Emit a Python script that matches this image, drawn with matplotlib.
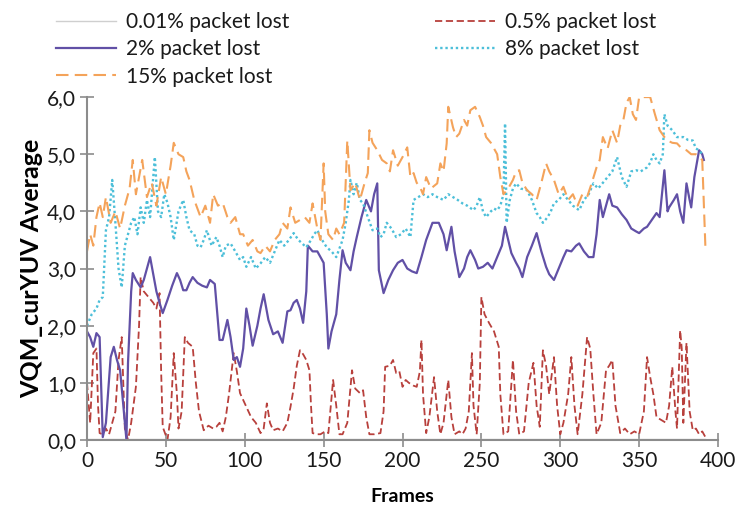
import matplotlib
matplotlib.use('Agg')
import matplotlib.pyplot as plt

# data
frames_001 = [0, 100, 200, 300, 392]
vqm_001 = [0.02, 0.02, 0.02, 0.02, 0.02]

frames_05 = [0, 2, 4, 6, 7, 8, 10, 12, 14, 16, 18, 20, 22, 24, 26, 28, 31, 33, 34, 36, 39, 42, 44, 46, 47, 48,
             51, 53, 55, 57, 58, 60, 62, 64, 67, 69, 71, 74, 77, 80, 82, 84, 86, 88, 90, 93, 95, 97, 99, 101,
             104, 107, 110, 112, 114, 116, 118, 121, 124, 127, 129, 131, 133, 135, 137, 139, 141, 142, 143,
             146, 148, 151, 153, 156, 158, 160, 162, 165, 168, 170, 173, 175, 177, 179, 182, 186, 188, 189,
             192, 194, 196, 198, 200, 202, 204, 207, 209, 211, 212, 213, 215, 217, 220, 222, 224, 226, 229,
             231, 233, 236, 238, 240, 242, 244, 245, 247, 249, 250, 252, 255, 258, 261, 262, 264, 267, 270,
             272, 274, 277, 280, 283, 285, 287, 289, 291, 293, 296, 298, 300, 302, 305, 307, 309, 311, 314,
             317, 319, 321, 323, 326, 329, 331, 333, 335, 338, 341, 344, 347, 350, 353, 355, 357, 359, 361,
             364, 367, 369, 371, 373, 374, 376, 377, 378, 380, 382, 384, 386, 388, 390, 392]
vqm_05 = [1.0, 0.3, 1.52, 1.6, 0.6, 0.12, 0.1, 0.2, 0.1, 0.3, 0.5, 1.4, 1.8, 0.2, 0.0, 0.3, 0.93, 2.0, 2.85, 2.6,
          2.5, 2.4, 2.3, 2.57, 1.2, 0.23, 0.0, 0.4, 1.52, 0.8, 0.2, 0.5, 1.8, 1.7, 1.63, 1.0, 0.5, 0.17, 0.25,
          0.2, 0.23, 0.3, 0.15, 0.4, 0.8, 1.52, 1.2, 0.82, 0.7, 0.58, 0.4, 0.3, 0.12, 0.2, 0.64, 0.3, 0.17,
          0.2, 0.15, 0.3, 0.58, 0.9, 1.3, 1.57, 1.5, 1.4, 1.22, 0.6, 0.12, 0.1, 0.1, 0.15, 0.12, 1.05, 0.6,
          0.1, 0.1, 0.3, 1.22, 0.9, 0.82, 0.87, 0.4, 0.1, 0.1, 0.12, 0.5, 1.28, 1.3, 1.4, 1.17, 1.2, 0.93,
          1.05, 1.0, 0.95, 0.93, 1.2, 1.75, 0.8, 0.12, 0.4, 1.1, 0.5, 0.1, 0.3, 1.05, 0.4, 0.1, 0.15, 0.1,
          0.2, 0.5, 1.52, 0.6, 0.1, 1.0, 2.5, 2.2, 2.04, 1.9, 1.63, 0.8, 0.1, 0.15, 1.4, 0.5, 0.1, 0.15, 1.0,
          1.35, 0.6, 0.23, 1.57, 1.3, 0.8, 1.45, 0.6, 0.1, 0.3, 0.8, 1.45, 0.6, 0.1, 0.8, 1.8, 1.6, 0.8, 0.1,
          0.3, 1.22, 1.3, 1.4, 0.6, 0.12, 0.2, 0.1, 0.15, 0.1, 0.5, 1.45, 1.1, 0.8, 0.4, 0.35, 0.3, 0.6, 1.28,
          0.5, 0.2, 1.92, 1.6, 0.3, 1.7, 0.5, 0.17, 0.2, 0.1, 0.15, 0.05]

frames_2 = [0, 2, 4, 6, 8, 10, 12, 15, 17, 19, 21, 23, 25, 26, 28, 29, 31, 34, 36, 38, 40, 42, 44, 46, 48, 51,
            54, 57, 59, 61, 63, 65, 67, 70, 73, 76, 78, 81, 84, 86, 89, 91, 93, 95, 97, 99, 101, 103, 105,
            108, 110, 112, 115, 118, 121, 124, 127, 129, 131, 133, 135, 137, 139, 140, 143, 146, 148, 150,
            152, 153, 155, 158, 160, 162, 164, 167, 169, 171, 174, 177, 180, 182, 184, 185, 187, 188, 191,
            194, 197, 200, 203, 206, 209, 212, 215, 219, 223, 226, 228, 231, 233, 236, 239, 241, 243, 246,
            248, 251, 254, 257, 260, 263, 265, 267, 269, 272, 274, 276, 279, 282, 285, 288, 291, 293, 296,
            299, 302, 304, 307, 310, 312, 315, 318, 321, 323, 325, 327, 329, 331, 333, 336, 339, 342, 345,
            348, 350, 353, 355, 358, 361, 363, 366, 368, 369, 372, 374, 376, 378, 380, 382, 383, 385, 388,
            390, 391]
vqm_2 = [1.9, 1.8, 1.63, 1.87, 1.8, 0.05, 0.3, 1.45, 1.63, 1.4, 1.22, 0.6, 0.0, 1.35, 2.6, 2.92, 2.8, 2.67,
         2.8, 3.0, 3.2, 2.9, 2.6, 2.4, 2.22, 2.45, 2.7, 2.92, 2.8, 2.62, 2.62, 2.75, 2.85, 2.75, 2.7, 2.67,
         2.8, 2.73, 1.75, 1.75, 2.1, 1.8, 1.4, 1.45, 1.28, 1.6, 2.3, 2.0, 1.65, 2.0, 2.3, 2.55, 2.1, 1.85,
         1.9, 1.7, 2.25, 2.27, 2.4, 2.45, 2.3, 2.05, 2.6, 3.4, 3.3, 3.3, 3.2, 3.1, 2.2, 1.6, 1.9, 2.2, 2.8,
         3.32, 3.1, 2.97, 3.3, 3.55, 3.9, 4.2, 4.0, 4.3, 4.49, 2.97, 2.7, 2.57, 2.8, 2.97, 3.1, 3.15, 3.0,
         2.95, 2.92, 3.2, 3.5, 3.8, 3.8, 3.6, 3.32, 3.73, 3.3, 2.85, 3.0, 3.2, 3.32, 3.15, 3.0, 3.03, 3.1,
         3.0, 3.2, 3.4, 3.73, 3.5, 3.27, 3.1, 3.0, 2.85, 3.2, 3.4, 3.62, 3.3, 3.03, 2.9, 2.8, 3.0, 3.2, 3.32,
         3.3, 3.4, 3.44, 3.3, 3.2, 3.2, 3.6, 4.2, 3.9, 4.1, 4.3, 4.1, 4.07, 3.95, 3.85, 3.7, 3.65, 3.62, 3.7,
         3.73, 3.85, 3.97, 3.9, 4.72, 4.0, 4.07, 4.2, 4.3, 4.0, 3.8, 4.49, 4.2, 4.07, 4.6, 5.07, 5.0, 4.9]

frames_8 = [0, 3, 6, 8, 10, 12, 14, 16, 18, 20, 22, 24, 26, 28, 30, 32, 34, 36, 38, 40, 43, 45, 47, 49, 51,
            53, 55, 58, 61, 63, 65, 68, 70, 72, 74, 76, 79, 82, 84, 86, 88, 91, 94, 97, 99, 101, 104, 107,
            110, 113, 116, 119, 122, 125, 128, 131, 134, 136, 139, 142, 144, 146, 149, 152, 155, 158, 160,
            162, 164, 166, 167, 169, 171, 173, 175, 178, 181, 184, 186, 188, 190, 193, 196, 199, 202, 205,
            207, 210, 213, 216, 219, 222, 226, 229, 232, 235, 238, 241, 245, 247, 249, 251, 253, 256, 258,
            260, 262, 264, 265, 266, 268, 270, 272, 275, 279, 282, 285, 287, 289, 292, 294, 296, 299, 302,
            305, 308, 312, 315, 318, 321, 324, 327, 330, 333, 336, 339, 342, 345, 348, 351, 355, 357, 359,
            361, 363, 365, 366, 368, 371, 374, 378, 381, 384, 386, 388, 390]
vqm_8 = [2.0, 2.2, 2.3, 2.45, 2.5, 3.67, 3.9, 4.55, 3.8, 3.0, 2.67, 3.4, 3.6, 3.8, 3.9, 3.6, 4.07, 3.8, 4.2,
         3.9, 4.95, 4.0, 3.9, 4.3, 4.15, 3.9, 3.5, 4.0, 4.2, 3.9, 3.67, 3.6, 3.4, 3.37, 3.5, 3.67, 3.4, 3.55,
         3.4, 3.2, 3.4, 3.44, 3.3, 3.15, 3.2, 3.03, 3.2, 3.0, 3.09, 3.2, 3.1, 3.3, 3.5, 3.4, 3.5, 3.62, 3.5,
         3.45, 3.37, 3.5, 3.6, 3.67, 3.5, 3.37, 3.3, 3.2, 3.35, 3.5, 3.8, 4.2, 4.55, 4.3, 4.5, 4.2, 4.14, 3.9,
         3.67, 3.7, 3.55, 3.6, 3.8, 3.7, 3.55, 3.6, 3.7, 3.55, 4.2, 4.25, 4.3, 4.25, 4.3, 4.25, 4.2, 4.3, 4.25,
         4.2, 4.14, 4.1, 4.02, 4.1, 4.25, 4.0, 3.9, 4.0, 4.05, 4.02, 4.1, 4.3, 5.54, 3.8, 4.2, 4.4, 4.49, 4.4,
         4.37, 4.2, 3.97, 3.9, 3.8, 3.9, 4.0, 4.14, 4.2, 4.3, 4.2, 4.1, 4.02, 4.2, 4.3, 4.49, 4.4, 4.5, 4.6,
         4.7, 4.95, 4.6, 4.43, 4.7, 4.72, 4.7, 4.77, 4.85, 5.0, 4.9, 4.84, 5.0, 5.7, 5.5, 5.42, 5.3, 5.3,
         5.25, 5.24, 5.1, 5.07, 5.0]

frames_15 = [0, 2, 4, 6, 8, 10, 12, 15, 18, 21, 24, 27, 29, 31, 33, 35, 38, 41, 44, 47, 50, 53, 55, 58, 61,
             63, 65, 68, 72, 75, 78, 80, 83, 86, 89, 91, 94, 97, 99, 102, 105, 108, 110, 113, 116, 119, 122,
             124, 127, 129, 132, 135, 138, 141, 143, 146, 148, 150, 151, 153, 156, 158, 160, 163, 165, 167,
             170, 173, 176, 178, 179, 181, 184, 187, 190, 192, 194, 197, 200, 203, 205, 207, 209, 211, 213,
             215, 218, 222, 224, 226, 228, 229, 232, 234, 236, 239, 241, 243, 246, 249, 251, 253, 256, 258,
             260, 262, 264, 267, 270, 272, 274, 276, 279, 282, 285, 288, 291, 293, 296, 299, 302, 305, 308,
             311, 314, 317, 320, 323, 325, 327, 330, 333, 336, 338, 340, 342, 344, 346, 348, 350, 353, 357,
             360, 363, 366, 368, 371, 374, 377, 380, 383, 386, 388, 390, 392]
vqm_15 = [3.3, 3.6, 3.4, 3.9, 4.15, 3.9, 4.25, 3.8, 4.0, 3.7, 4.1, 4.4, 4.9, 4.3, 4.6, 4.9, 4.25, 4.5, 4.1,
          4.6, 4.3, 4.8, 5.2, 5.0, 4.95, 4.7, 4.55, 4.2, 3.9, 4.1, 3.8, 4.3, 4.1, 4.15, 3.9, 3.8, 3.9, 3.6,
          3.6, 3.4, 3.5, 3.3, 3.27, 3.4, 3.3, 3.5, 3.6, 3.8, 3.7, 4.07, 3.8, 3.85, 3.9, 3.8, 4.14, 3.7, 3.5,
          4.84, 4.0, 3.6, 3.5, 3.7, 3.6, 3.8, 5.24, 4.37, 4.5, 4.2, 4.5, 4.67, 5.42, 5.2, 5.07, 4.9, 4.84,
          4.7, 5.07, 4.8, 4.95, 5.12, 4.6, 4.67, 4.5, 4.43, 4.3, 4.6, 4.4, 4.49, 4.84, 4.7, 5.19, 5.83, 5.47,
          5.3, 5.36, 5.6, 5.5, 5.77, 5.83, 5.65, 5.5, 5.3, 5.2, 5.1, 5.0, 4.6, 4.3, 4.4, 4.55, 4.7, 4.72, 4.5,
          4.37, 4.3, 4.2, 4.5, 4.84, 4.7, 4.55, 4.3, 4.43, 4.2, 4.3, 4.1, 4.3, 4.25, 4.5, 4.77, 4.9, 5.3, 5.1,
          5.42, 5.2, 5.5, 5.6, 5.9, 6.0, 5.7, 5.6, 6.0, 6.0, 6.0, 5.7, 5.42, 5.3, 5.24, 5.2, 5.19, 5.1, 5.07,
          5.0, 5.0, 4.95, 4.9, 3.37]

labels = ['0.01% packet lost', '0.5% packet lost', '2% packet lost', '8% packet lost', '15% packet lost']
xticks = [0, 50, 100, 150, 200, 250, 300, 350, 400]
yticks = [0, 1, 2, 3, 4, 5, 6]
ytick_labels = ['0,0', '1,0', '2,0', '3,0', '4,0', '5,0', '6,0']

plt.rcParams['font.family'] = ['Lato', 'DejaVu Sans']

fig = plt.figure(figsize=(7.41, 5.11), dpi=100)
ax = fig.add_axes([0.1174, 0.139, 0.8516, 0.671])

l1, = ax.plot(frames_001, vqm_001, color='#cfcfcf', lw=1.0, label=labels[0])
l2, = ax.plot(frames_05, vqm_05, color='#b8403c', lw=1.3, dashes=(4, 2), label=labels[1])
l3, = ax.plot(frames_2, vqm_2, color='#6150a6', lw=1.6, label=labels[2])
l4, = ax.plot(frames_8, vqm_8, color='#4cbfd9', lw=1.7, dashes=(1, 1.2), label=labels[3])
l5, = ax.plot(frames_15, vqm_15, color='#f4a35a', lw=1.5, dashes=(6, 3), label=labels[4])

ax.set_xlim(0, 400)
ax.set_ylim(0, 6)
ax.set_xticks(xticks)
ax.set_xticklabels([str(t) for t in xticks])
ax.set_yticks(yticks)
ax.set_yticklabels(ytick_labels)

for s in ['top', 'right']:
    ax.spines[s].set_visible(False)
for s in ['left', 'bottom']:
    ax.spines[s].set_color('#8c8c8c')
    ax.spines[s].set_linewidth(1.5)
ax.tick_params(direction='inout', length=10, width=1.2, color='#8c8c8c',
               labelsize=15, labelcolor='#1a1a1a', pad=3)

ax.set_xlabel('Frames', fontsize=14, fontweight='bold', labelpad=12)
ax.set_ylabel('VQM_curYUV Average', fontsize=18, fontweight='bold', labelpad=3)

# legend across the top, two columns
fig.legend([l1, l3, l5, l2, l4], [labels[0], labels[2], labels[4], labels[1], labels[3]],
           ncol=2, loc='upper left', bbox_to_anchor=(0.05, 1.013), frameon=False,
           fontsize=15, handlelength=2.9, handletextpad=0.45, columnspacing=7.0,
           labelspacing=0.35, labelcolor='#1a1a1a')

plt.savefig('out.png', dpi=100)
